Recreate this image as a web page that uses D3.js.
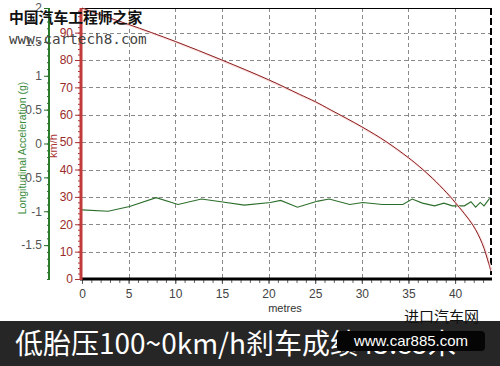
<!DOCTYPE html>
<html>
<head>
<meta charset="utf-8">
<script src="https://cdn.jsdelivr.net/npm/d3@7"></script>
<style>
  body { margin: 0; background: #fff; }
  svg { display: block; }
  text { font-family: "Liberation Sans", Arial, sans-serif; }
</style>
</head>
<body>
<div id="chart"></div>
<script>
// speed trace (km/h) against distance (m)
const distM   = [0, 2, 5, 10, 15, 20, 23.3, 25, 26.7, 30, 32.6, 35, 36.2, 37.6, 39.1, 40, 41.9, 42.9, 43.6, 43.8];
const speedKmh = [99, 96.5, 93, 86.8, 80, 72.8, 67.5, 64.8, 61.7, 55.6, 50.2, 44.3, 41.0, 36.7, 31.5, 28.0, 19.7, 13, 5.7, 3.3];

// longitudinal acceleration (g) against distance (m)
const accDist = [0, 2.8, 5.1, 7.95, 10.3, 12.8, 14.9, 17.4, 20.2, 21.3, 23.1, 25.3, 26.5, 28.7, 30.1, 32.2, 34.4, 35.4, 36.5, 37.8, 38.8, 39.7, 41.0, 41.7, 42.2, 42.7, 43.1, 43.7];
const accG    = [-0.98, -1.0, -0.93, -0.80, -0.90, -0.82, -0.86, -0.91, -0.87, -0.84, -0.94, -0.85, -0.82, -0.90, -0.87, -0.90, -0.90, -0.82, -0.88, -0.92, -0.88, -0.92, -0.92, -0.86, -0.94, -0.87, -0.92, -0.81];

const xTicks = [0, 5, 10, 15, 20, 25, 30, 35, 40];
const speedTicks = [0, 10, 20, 30, 40, 50, 60, 70, 80, 90];
const accTicks = [-1.5, -1, -0.5, 0, 0.5, 1, 1.5, 2];

const W = 500, H = 366;
const plotL = 82, plotR = 491, plotT = 8, plotB = 279;

const svg = d3.select("#chart").append("svg")
    .attr("width", W)
    .attr("height", H);

const x = d3.scaleLinear().domain([0, 43.85]).range([plotL, plotR]);
const ySpeed = d3.scaleLinear().domain([0, 99]).range([plotB, plotT]);
const yAcc = d3.scaleLinear().domain([-2, 2]).range([plotB, plotT]);

// grid
const grid = svg.append("g")
    .attr("stroke", "#8a8a8a")
    .attr("stroke-dasharray", "4,3")
    .attr("stroke-width", 1);
grid.selectAll("line.v")
    .data(xTicks.filter(d => d > 0))
    .enter().append("line")
    .attr("x1", d => Math.round(x(d)) + 0.5)
    .attr("x2", d => Math.round(x(d)) + 0.5)
    .attr("y1", plotT)
    .attr("y2", plotB);
grid.selectAll("line.h")
    .data(speedTicks.filter(d => d > 0))
    .enter().append("line")
    .attr("x1", plotL)
    .attr("x2", plotR)
    .attr("y1", d => Math.round(ySpeed(d)) + 0.5)
    .attr("y2", d => Math.round(ySpeed(d)) + 0.5);

// frame: solid top, dashed right
svg.append("line")
    .attr("x1", plotL).attr("x2", plotR + 1)
    .attr("y1", plotT + 0.5).attr("y2", plotT + 0.5)
    .attr("stroke", "#000");
svg.append("line")
    .attr("x1", plotR).attr("x2", plotR)
    .attr("y1", plotT).attr("y2", plotB)
    .attr("stroke", "#000")
    .attr("stroke-width", 2)
    .attr("stroke-dasharray", "7,3");

// acceleration trace
const accLine = d3.line()
    .x((d, i) => x(accDist[i]))
    .y(d => yAcc(d));
svg.append("path")
    .attr("d", accLine(accG))
    .attr("fill", "none")
    .attr("stroke", "#2b6e2b")
    .attr("stroke-width", 1.1);

// speed trace
const speedLine = d3.line()
    .x((d, i) => x(distM[i]))
    .y(d => ySpeed(d))
    .curve(d3.curveCatmullRom);
svg.append("path")
    .attr("d", speedLine(speedKmh))
    .attr("fill", "none")
    .attr("stroke", "#fbdcdc")
    .attr("stroke-width", 2)
    .attr("transform", "translate(1,1)");
svg.append("path")
    .attr("d", speedLine(speedKmh))
    .attr("fill", "none")
    .attr("stroke", "#8a1f1f")
    .attr("stroke-width", 1);

// x axis
const xMinor = svg.append("g")
    .attr("transform", `translate(0,${plotB})`)
    .call(d3.axisBottom(x).tickValues(d3.range(0, 44, 1)).tickSize(4).tickFormat(""));
xMinor.select(".domain").remove();
xMinor.selectAll("line").attr("stroke", "#666");
const xAxis = svg.append("g")
    .attr("transform", `translate(0,${plotB})`)
    .call(d3.axisBottom(x).tickValues(xTicks).tickSize(5).tickSizeOuter(0));
xAxis.select(".domain").remove();
xAxis.selectAll("line").attr("stroke", "#555");
xAxis.selectAll("text")
    .attr("font-size", 12)
    .attr("fill", "#444")
    .attr("dy", "0.95em")
    .style("font-family", "'Liberation Sans', Arial, sans-serif");
svg.append("line")
    .attr("x1", plotL - 2).attr("x2", plotR + 1)
    .attr("y1", plotB).attr("y2", plotB)
    .attr("stroke", "#000")
    .attr("stroke-width", 3);
svg.append("text")
    .attr("x", 285).attr("y", 312)
    .attr("text-anchor", "middle")
    .attr("font-size", 11)
    .attr("fill", "#333")
    .text("metres");

// speed axis (red)
const sMinor = svg.append("g")
    .attr("transform", `translate(${plotL - 1},0)`)
    .call(d3.axisLeft(ySpeed).tickValues(d3.range(0, 99, 2)).tickSize(3).tickFormat(""));
sMinor.select(".domain").remove();
sMinor.selectAll("line").attr("stroke", "#a33");
const sAxis = svg.append("g")
    .attr("transform", `translate(${plotL - 1},0)`)
    .call(d3.axisLeft(ySpeed).tickValues(speedTicks).tickSize(6).tickSizeOuter(0));
sAxis.select(".domain").remove();
sAxis.selectAll("line").attr("stroke", "#a33");
sAxis.selectAll("text")
    .attr("font-size", 12)
    .attr("fill", "#9b2b2b")
    .attr("x", -8)
    .style("font-family", "'Liberation Sans', Arial, sans-serif");
svg.append("line")
    .attr("x1", plotL - 1).attr("x2", plotL - 1)
    .attr("y1", plotT).attr("y2", plotB + 1)
    .attr("stroke", "#c23b3b")
    .attr("stroke-width", 3);
svg.append("text")
    .attr("transform", "translate(57,146) rotate(-90)")
    .attr("text-anchor", "middle")
    .attr("font-size", 11)
    .attr("fill", "#a33")
    .text("km/h");

// acceleration axis (green)
const accX = 49;
const aMinor = svg.append("g")
    .attr("transform", `translate(${accX},0)`)
    .call(d3.axisLeft(yAcc).tickValues(d3.range(-20, 21, 1).map(d => d / 10)).tickSize(2).tickFormat(""));
aMinor.select(".domain").remove();
aMinor.selectAll("line").attr("stroke", "#2b6e2b");
const aAxis = svg.append("g")
    .attr("transform", `translate(${accX},0)`)
    .call(d3.axisLeft(yAcc).tickValues(accTicks).tickSize(5).tickSizeOuter(0)
        .tickFormat(d => String(d)));
aAxis.select(".domain").remove();
aAxis.selectAll("line").attr("stroke", "#2b6e2b");
aAxis.selectAll("text")
    .attr("font-size", 12)
    .attr("fill", "#555")
    .attr("x", -7)
    .style("font-family", "'Liberation Sans', Arial, sans-serif");
svg.append("line")
    .attr("x1", accX).attr("x2", accX)
    .attr("y1", plotT).attr("y2", plotB + 1)
    .attr("stroke", "#2b7a2b")
    .attr("stroke-width", 2);
svg.append("text")
    .attr("transform", "translate(26,148) rotate(-90)")
    .attr("text-anchor", "middle")
    .attr("font-size", 10.5)
    .attr("fill", "#3a8a3a")
    .text("Longitudinal Acceleration (g)");

// watermark, top left
svg.append("text")
    .attr("x", 9).attr("y", 23)
    .attr("font-size", 14.8)
    .attr("font-weight", "bold")
    .attr("fill", "#111")
    .style("font-family", "'Noto Sans CJK SC', sans-serif")
    .text("中国汽车工程师之家");
svg.append("text")
    .attr("x", 9).attr("y", 44)
    .attr("font-size", 14.3)
    .attr("fill", "#444")
    .style("font-family", "'DejaVu Sans Mono', monospace")
    .text("www.cartech8.com");

// bottom banner
svg.append("rect")
    .attr("x", 0).attr("y", 321)
    .attr("width", W).attr("height", H - 321)
    .attr("fill", "#262626");
svg.append("text")
    .attr("x", 15).attr("y", 354)
    .attr("font-size", 28)
    .attr("fill", "#fff")
    .style("font-family", "'Noto Sans CJK SC', sans-serif")
    .text("低胎压100~0km/h刹车成绩43.85米");

const grad = svg.append("defs").append("linearGradient")
    .attr("id", "fade");
grad.append("stop").attr("offset", "0%").attr("stop-color", "#fff");
grad.append("stop").attr("offset", "100%").attr("stop-color", "#111");
svg.append("g").selectAll("line")
    .data(d3.range(0, 6))
    .enter().append("line")
    .attr("x1", 340).attr("x2", 402)
    .attr("y1", d => 310 + d * 2 + 0.5)
    .attr("y2", d => 310 + d * 2 + 0.5)
    .attr("stroke", "url(#fade)");
svg.append("text")
    .attr("x", 404).attr("y", 322)
    .attr("font-size", 15)
    .attr("fill", "#111")
    .style("font-family", "'Noto Sans CJK SC', sans-serif")
    .text("进口汽车网");
svg.append("rect")
    .attr("x", 337).attr("y", 331)
    .attr("width", 148).attr("height", 20)
    .attr("rx", 4)
    .attr("fill", "#050505");
svg.append("text")
    .attr("x", 411).attr("y", 346)
    .attr("text-anchor", "middle")
    .attr("font-size", 15)
    .attr("fill", "#fff")
    .text("www.car885.com");
</script>
</body>
</html>
